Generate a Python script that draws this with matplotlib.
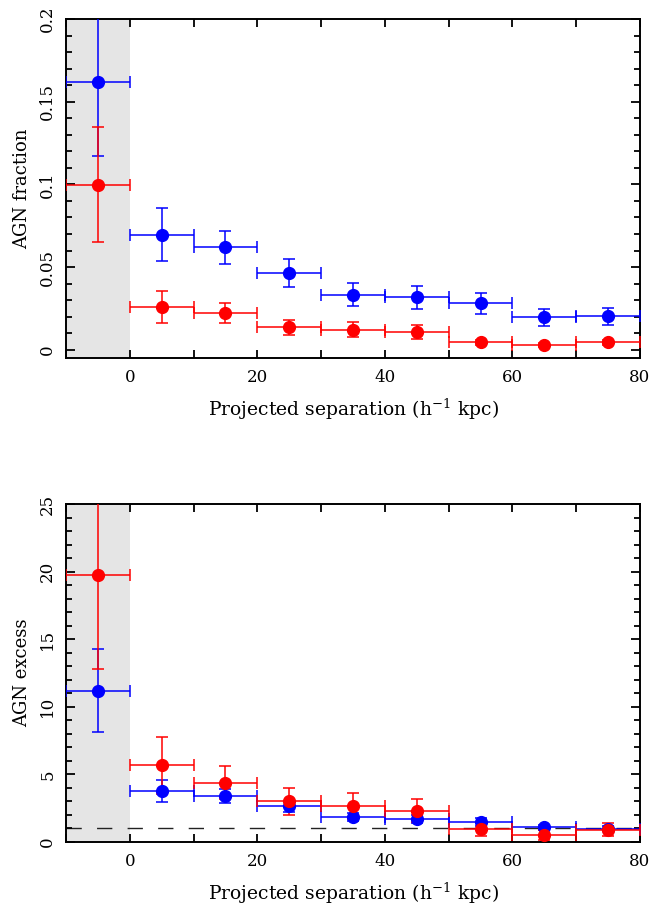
import numpy as np
import matplotlib.pyplot as plt
from matplotlib.ticker import MultipleLocator

plt.rcParams['font.family'] = 'DejaVu Serif'
plt.rcParams['mathtext.fontset'] = 'dejavuserif'

# bin centres and half widths (h^-1 kpc)
sep = [-5, 5, 15, 25, 35, 45, 55, 65, 75]
sep_err = [5] * 9

# AGN fraction
frac_blue = [0.162, 0.0695, 0.062, 0.0463, 0.0332, 0.0318, 0.0282, 0.0195, 0.0201]
frac_blue_err = [0.045, 0.016, 0.010, 0.0083, 0.007, 0.007, 0.0063, 0.005, 0.0053]
frac_red = [0.0999, 0.0258, 0.0224, 0.0135, 0.0121, 0.0107, 0.0044, 0.0026, 0.0044]
frac_red_err = [0.035, 0.0097, 0.006, 0.0044, 0.0044, 0.0042, 0.0015, 0.0012, 0.0015]

# AGN excess
exc_blue = [11.2, 3.76, 3.40, 2.63, 1.85, 1.70, 1.45, 1.08, 0.98]
exc_blue_err = [3.1, 0.83, 0.5, 0.4, 0.3, 0.3, 0.3, 0.2, 0.2]
exc_red = [19.76, 5.68, 4.40, 3.03, 2.68, 2.31, 0.96, 0.52, 0.91]
exc_red_err = [7.0, 2.1, 1.2, 1.0, 0.95, 0.85, 0.5, 0.35, 0.5]

fig = plt.figure(figsize=(6.68, 9.08), dpi=100)
W, H = 668, 908
ax1 = fig.add_axes([66 / W, 1 - 358 / H, 574 / W, 339 / H])
ax2 = fig.add_axes([66 / W, 1 - 842 / H, 574 / W, 338 / H])


def draw(ax, yb, ybe, yr, yre):
    ax.axvspan(-10, 0, color='#e5e5e5', lw=0, zorder=0)
    for y, ye, c in [(yb, ybe, 'blue'), (yr, yre, 'red')]:
        ax.errorbar(sep, y, xerr=sep_err, yerr=ye, fmt='o', color=c,
                    ms=8.5, elinewidth=1.1, capsize=4, capthick=1.1,
                    zorder=3)
    ax.set_xlim(-10, 80)
    ax.xaxis.set_major_locator(MultipleLocator(20))
    ax.xaxis.set_minor_locator(MultipleLocator(10))
    ax.tick_params(which='both', direction='in', top=True, right=True,
                   labelsize=12, width=1.3)
    ax.tick_params(which='major', length=6.5)
    ax.tick_params(which='minor', length=4.3)
    ax.tick_params(axis='x', which='both', length=6, pad=8)
    ax.tick_params(axis='y', pad=7)
    for lab in ax.get_yticklabels():
        lab.set_rotation(90)
        lab.set_va('center')
    for s in ax.spines.values():
        s.set_linewidth(1.4)
    ax.set_xlabel(r'Projected separation (h$^{-1}$ kpc)', fontsize=13.5,
                  labelpad=8)


ax1.set_ylim(-0.005, 0.2)
ax1.yaxis.set_major_locator(MultipleLocator(0.05))
ax1.yaxis.set_minor_locator(MultipleLocator(0.01))
ax1.set_yticks([0, 0.05, 0.1, 0.15, 0.2])
ax1.set_yticklabels(['0', '0.05', '0.1', '0.15', '0.2'])
draw(ax1, frac_blue, frac_blue_err, frac_red, frac_red_err)
ax1.set_ylabel('AGN fraction', fontsize=13, labelpad=6)

ax2.set_ylim(0, 25)
ax2.yaxis.set_major_locator(MultipleLocator(5))
ax2.yaxis.set_minor_locator(MultipleLocator(1))
ax2.axhline(1, color='#222222', ls=(0, (11, 11)), lw=1, zorder=1)
draw(ax2, exc_blue, exc_blue_err, exc_red, exc_red_err)
ax2.set_ylabel('AGN excess', fontsize=13, labelpad=6)

fig.savefig('out.png', dpi=100)
